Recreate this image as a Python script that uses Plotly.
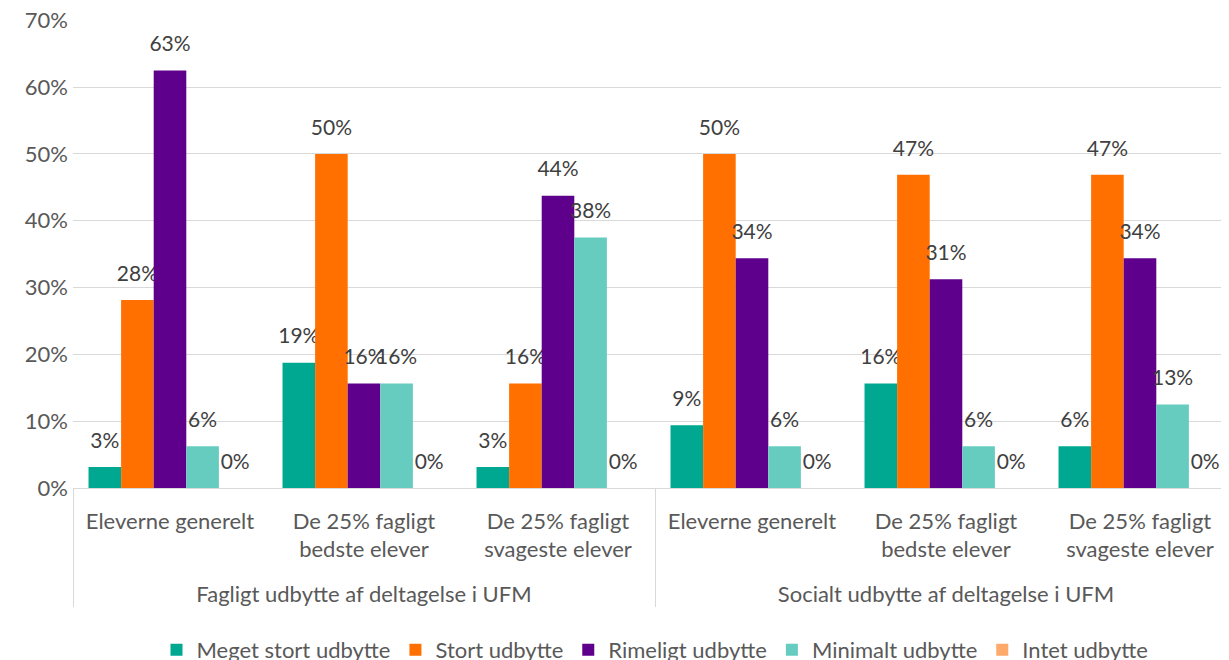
import plotly.graph_objects as go

groups = ["<br>Fagligt udbytte af deltagelse i UFM"] * 3 + ["<br>Socialt udbytte af deltagelse i UFM"] * 3
subgroups = ["Eleverne generelt", "De 25% fagligt<br>bedste elever", "De 25% fagligt<br>svageste elever"] * 2

series_names = ["Meget stort udbytte", "Stort udbytte", "Rimeligt udbytte", "Minimalt udbytte", "Intet udbytte"]
meget_stort = [0.03125, 0.1875, 0.03125, 0.09375, 0.15625, 0.0625]
stort = [0.28125, 0.50, 0.15625, 0.50, 0.46875, 0.46875]
rimeligt = [0.625, 0.15625, 0.4375, 0.34375, 0.3125, 0.34375]
minimalt = [0.0625, 0.15625, 0.375, 0.0625, 0.0625, 0.125]
intet = [0, 0, 0, 0, 0, 0]
series_values = [meget_stort, stort, rimeligt, minimalt, intet]
colors = ["#00A891", "#FF7000", "#5F008C", "#66CCBF", "#FFA96A"]

FONT = "Lato"
FS = 22
LS = 21
fig = go.Figure()
for name, vals, col in zip(series_names, series_values, colors):
    fig.add_trace(go.Bar(
        name=name, x=[groups, subgroups], y=vals, marker_color=col,
        marker_line_width=0,
        texttemplate="<span style='font-size:%dpx'>%%{y:.0%%}</span><br> " % LS,
        textposition="outside",
        constraintext="none",
        textfont=dict(family=FONT, size=11, color="#404040"),
        cliponaxis=False,
    ))

fig.update_layout(
    width=1229, height=660, barmode="group", bargap=0.16, bargroupgap=0,
    margin=dict(l=65, r=0, t=12, b=180, autoexpand=False),
    plot_bgcolor="white", paper_bgcolor="white",
    font=dict(family=FONT, size=FS, color="#595959"),
    legend=dict(orientation="h", x=0.5, xanchor="center", y=-0.391, yanchor="bottom",
                font=dict(family=FONT, size=FS, color="#595959"),
                itemwidth=30, traceorder="normal"),
    yaxis=dict(range=[0, 0.7005], tickvals=[0, 0.1, 0.2, 0.3, 0.4, 0.5, 0.6, 0.7],
               tickformat=".0%", gridcolor="#D9D9D9",
               gridwidth=1.3, zeroline=False, showline=False, ticks="",
               automargin=False, ticklabelstandoff=4, ticklabeloverflow="allow",
               tickfont=dict(family=FONT, size=FS, color="#595959")),
    xaxis=dict(showline=True, linecolor="#D9D9D9", linewidth=1.3, ticks="",
               automargin=False, ticklabelstandoff=13,
               showdividers=True, dividercolor="#D9D9D9", dividerwidth=1.3,
               tickfont=dict(family=FONT, size=FS, color="#595959")),
)
fig.write_html("out.html")
